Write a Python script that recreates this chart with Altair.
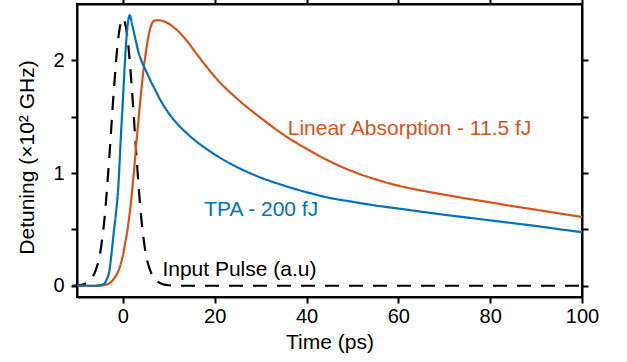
import altair as alt
import pandas as pd

# Input pulse (dashed black)
pulse_t = [-11, -10, -9, -8, -7, -6, -5, -4, -3, -2, -1, 0, 1, 2, 3, 4, 5, 6, 7, 8, 9, 10, 12, 101]
pulse_v = [0.0, 0.003, 0.008, 0.022, 0.055, 0.13, 0.28, 0.6, 1.12, 1.72, 2.2, 2.37, 2.2, 1.72,
           1.12, 0.6, 0.28, 0.13, 0.06, 0.025, 0.01, 0.004, 0.0, 0.0]

# TPA - 200 fJ (blue)
tpa_t = [-10, -6, -5, -4, -3.5, -3, -2.5, -2, -1.5, -1, -0.5, 0, 0.5, 1, 1.5, 2, 2.5, 3, 3.5, 4,
         5, 6, 7, 8, 10, 12, 14, 16, 18, 20, 22, 25, 30, 35, 40, 45, 50, 55, 60, 65, 70, 75,
         80, 85, 90, 95, 100]
tpa_v = [0.0, 0.0, 0.005, 0.02, 0.06, 0.12, 0.28, 0.47, 0.65, 0.88, 1.28, 1.65, 2.03, 2.3, 2.40,
         2.32, 2.23, 2.14, 2.06, 2.0, 1.91, 1.82, 1.74, 1.66, 1.53, 1.43, 1.35, 1.28, 1.22, 1.165,
         1.115, 1.05, 0.96, 0.89, 0.83, 0.78, 0.745, 0.712, 0.685, 0.657, 0.63, 0.605, 0.58,
         0.555, 0.53, 0.502, 0.475]

# Linear absorption - 11.5 fJ (orange)
lin_t = [-10, -5, -4, -3, -2, -1, -0.5, 0, 0.5, 1, 1.5, 2, 2.5, 3, 3.5, 4, 4.5, 5, 5.5, 6, 6.5,
         7, 8, 9, 10, 11, 12, 14, 16, 18, 20, 25, 30, 35, 40, 45, 50, 55, 60, 65, 70, 75,
         80, 85, 90, 95, 100]
lin_v = [0.0, 0.0, 0.005, 0.02, 0.06, 0.13, 0.19, 0.27, 0.38, 0.5, 0.65, 0.84, 1.06, 1.3, 1.52,
         1.73, 1.92, 2.07, 2.2, 2.29, 2.34, 2.355, 2.355, 2.345, 2.325, 2.295, 2.26, 2.17, 2.06,
         1.955, 1.855, 1.655, 1.49, 1.34, 1.215, 1.105, 1.015, 0.945, 0.888, 0.845, 0.808,
         0.773, 0.74, 0.706, 0.674, 0.642, 0.61]

series_names = ["Input Pulse", "Linear Absorption", "TPA"]
series_colors = ["#000000", "#D95319", "#0072BD"]

label_text = ["Linear Absorption - 11.5 fJ", "TPA - 200 fJ", "Input Pulse (a.u)"]
label_t = [35.9, 17.7, 8.6]
label_v = [1.34, 0.615, 0.089]
label_color = ["#D95319", "#0072BD", "#000000"]

x_ticks = [0, 20, 40, 60, 80, 100]
y_ticks = [0, 0.5, 1, 1.5, 2]

rows = []
for name, ts, vs in [("Input Pulse", pulse_t, pulse_v),
                     ("Linear Absorption", lin_t, lin_v),
                     ("TPA", tpa_t, tpa_v)]:
    for i, (t, v) in enumerate(zip(ts, vs)):
        rows.append({"t": t, "v": v, "series": name, "order": i})
lines_df = pd.DataFrame(rows)

labels_df = pd.DataFrame({"t": label_t, "v": label_v, "text": label_text, "color": label_color})

FONT = "Liberation Sans"
xscale = alt.Scale(domain=[-10, 100], nice=False, zero=False)
yscale = alt.Scale(domain=[-0.1, 2.5], nice=False, zero=False)

lines = alt.Chart(lines_df).mark_line(strokeWidth=2.2, interpolate="monotone").encode(
    x=alt.X("t:Q", scale=xscale,
            axis=alt.Axis(orient="bottom", values=x_ticks, title="Time (ps)",
                          labelFlush=False,
                          labelBaseline="alphabetic", labelPadding=19,
                          titleBaseline="alphabetic", titleY=51)),
    y=alt.Y("v:Q", scale=yscale,
            axis=alt.Axis(orient="left", values=y_ticks, title="Detuning (×10² GHz)",
                          format=".0f",
                          labelExpr="datum.value % 1 === 0 ? datum.label : ''",
                          labelPadding=7, titleAngle=-90, titleBaseline="alphabetic",
                          titleX=-44, titleY=153, titleAlign="center")),
    color=alt.Color("series:N", scale=alt.Scale(domain=series_names, range=series_colors),
                    legend=None),
    strokeDash=alt.StrokeDash("series:N",
                              scale=alt.Scale(domain=series_names,
                                              range=[[14, 10], [1, 0], [1, 0]]),
                              legend=None),
    order="order:Q",
)

texts = alt.Chart(labels_df).mark_text(
    align="left", baseline="alphabetic", font=FONT, fontSize=21
).encode(
    x=alt.X("t:Q", scale=xscale,
            axis=alt.Axis(orient="top", values=x_ticks, labels=False, title=None)),
    y=alt.Y("v:Q", scale=yscale,
            axis=alt.Axis(orient="right", values=y_ticks, labels=False, title=None)),
    text="text:N",
    color=alt.Color("color:N", scale=None),
)

chart = alt.layer(lines, texts).resolve_axis(x="independent", y="independent").properties(
    width=505, height=293,
    autosize=alt.AutoSizeParams(type="none"),
    padding={"left": 77, "top": 4, "right": 45, "bottom": 65},
).configure_axis(
    grid=False,
    domainColor="#000000", domainWidth=2,
    tickColor="#000000", tickWidth=2, tickSize=6,
    labelFont=FONT, labelFontSize=20, labelColor="#000000",
    titleFont=FONT, titleFontSize=21, titleColor="#000000", titleFontWeight="normal",
).configure_view(stroke="#000000", strokeWidth=2)

chart.save("out.html", embed_options={"renderer": "svg", "actions": False})
